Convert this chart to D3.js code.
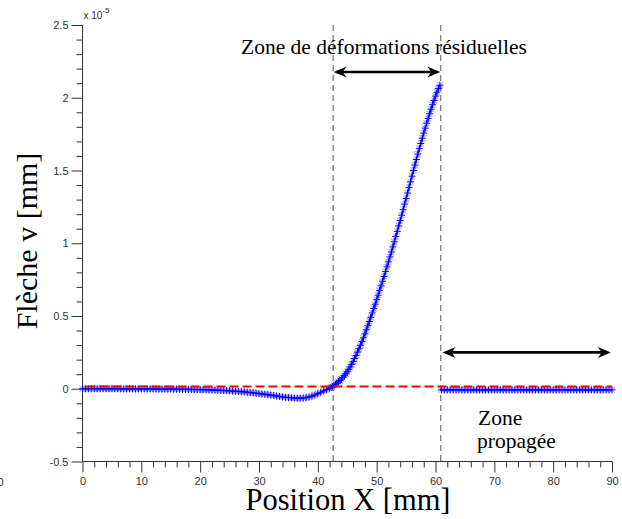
<!DOCTYPE html>
<html>
<head>
<meta charset="utf-8">
<script src="https://cdn.jsdelivr.net/npm/d3@7"></script>
<style>
  html, body { margin: 0; padding: 0; background: #fff; }
  svg { display: block; }
</style>
</head>
<body>
<svg id="chart" width="622" height="519"></svg>
<script>
// ---- data (values in units of 1e-5 mm) ----
const residX = [0,0.5,1,1.5,2,2.5,3,3.5,4,4.5,5,5.5,6,6.5,7,7.5,8,8.5,9,9.5,10,
  10.5,11,11.5,12,12.5,13,13.5,14,14.5,15,15.5,16,16.5,17,17.5,18,18.5,19,19.5,20,
  20.5,21,21.5,22,22.5,23,23.5,24,24.5,25,25.5,26,26.5,27,27.5,28,28.5,29,29.5,30,
  30.5,31,31.5,32,32.5,33,33.5,34,34.5,35,35.5,36,36.5,37,37.5,38,38.5,39,39.5,40,
  40.5,41,41.5,42,42.25,
  42.5,42.75,43,43.25,43.5,43.75,44,44.25,44.5,44.75,45,45.25,45.5,45.75,46,46.25,
  46.5,46.75,47,47.25,47.5,47.75,48,48.25,48.5,48.75,49,49.25,49.5,49.75,50,50.25,
  50.5,50.75,51,51.25,51.5,51.75,52,52.25,52.5,52.75,53,53.25,53.5,53.75,54,54.25,
  54.5,54.75,55,55.25,55.5,55.75,56,56.25,56.5,56.75,57,57.25,57.5,57.75,58,58.25,
  58.5,58.75,59,59.25,59.5,59.75,60,60.25,60.5,60.75];
const residV = [0,0,0,0,0,0,0,0,0,0,0,0,0,-0.001,-0.001,-0.001,-0.001,-0.001,-0.001,-0.001,-0.001,
  -0.001,-0.001,-0.001,-0.001,-0.002,-0.002,-0.002,-0.002,-0.002,-0.002,
  -0.003,-0.003,-0.003,-0.004,-0.004,-0.004,-0.005,-0.005,-0.006,-0.006,
  -0.007,-0.007,-0.008,-0.009,-0.009,-0.010,-0.011,-0.012,-0.013,-0.014,
  -0.016,-0.017,-0.019,-0.020,-0.022,-0.024,-0.026,-0.028,-0.031,-0.033,
  -0.036,-0.038,-0.041,-0.044,-0.047,-0.050,-0.053,-0.056,-0.058,-0.060,
  -0.062,-0.064,-0.065,-0.065,-0.064,-0.061,-0.057,-0.051,-0.043,-0.034,
  -0.025,-0.015,-0.006,0.004,0.009,
  0.015,0.023,0.031,0.039,0.048,0.057,0.067,0.078,0.090,0.103,0.117,0.133,0.150,0.168,0.187,0.208,
  0.229,0.252,0.275,0.299,0.324,0.350,0.377,0.405,0.433,0.462,0.491,0.521,0.551,0.581,0.612,0.643,
  0.675,0.707,0.739,0.772,0.805,0.838,0.872,0.906,0.940,0.975,1.010,1.046,1.082,1.119,1.156,1.193,
  1.231,1.269,1.307,1.345,1.384,1.422,1.461,1.500,1.538,1.576,1.613,1.650,1.686,1.722,1.757,1.791,
  1.825,1.858,1.890,1.921,1.952,1.982,2.011,2.038,2.064,2.086];
const propX = [61,61.5,62,62.5,63,63.5,64,64.5,65,65.5,66,66.5,67,67.5,68,68.5,69,69.5,70,
  70.5,71,71.5,72,72.5,73,73.5,74,74.5,75,75.5,76,76.5,77,77.5,78,78.5,79,79.5,80,
  80.5,81,81.5,82,82.5,83,83.5,84,84.5,85,85.5,86,86.5,87,87.5,88,88.5,89,89.5,90];
const propV = [-0.008,-0.008,-0.008,-0.008,-0.008,-0.008,-0.008,-0.008,-0.008,-0.008,
  -0.008,-0.008,-0.008,-0.008,-0.008,-0.008,-0.008,-0.008,-0.008,-0.008,
  -0.008,-0.008,-0.008,-0.008,-0.008,-0.008,-0.008,-0.008,-0.008,-0.008,
  -0.008,-0.008,-0.008,-0.008,-0.008,-0.008,-0.008,-0.008,-0.008,-0.008,
  -0.008,-0.008,-0.008,-0.008,-0.008,-0.008,-0.008,-0.008,-0.008,-0.008,
  -0.008,-0.008,-0.008,-0.008,-0.008,-0.008,-0.008,-0.008,-0.008];
const refLevel = 0.015;                 // red dashed reference
const zoneBounds = [42.6, 60.9];        // vertical dashed lines
const xTicks = [0,10,20,30,40,50,60,70,80,90];
const yTicks = [-0.5,0,0.5,1,1.5,2,2.5];
const xDomain = [0, 90];
const yDomain = [-0.5, 2.5];
const labels = {
  x: "Position X [mm]",
  y: "Flèche v [mm]",
  zoneRes: "Zone de déformations résiduelles",
  zoneProp: ["Zone", "propagée"],
  exponent: "-5"
};

// ---- drawing ----
const svg = d3.select("#chart");
svg.append("rect").attr("width", 622).attr("height", 519).attr("fill", "#fff");

const x = d3.scaleLinear().domain(xDomain).range([82.5, 612]);
const y = d3.scaleLinear().domain(yDomain).range([461.5, 25]);

const axisColor = "#333";
const tickFont = "'Liberation Sans', Arial, Helvetica, sans-serif";
const serif = "'Liberation Serif', 'Times New Roman', Times, serif";

// minor ticks (no labels)
const xMinor = d3.range(0, 90.001, 2).filter(v => v % 10 !== 0);
const yMinor = d3.range(-5, 25.001, 1).map(v => v / 10).filter(v => Math.abs(v * 2 - Math.round(v * 2)) > 1e-9);

const gx = svg.append("g").attr("transform", `translate(0,${y(-0.5)})`);
gx.call(d3.axisBottom(x).tickValues(xMinor).tickSize(6).tickFormat(""));
gx.call(g => { g.select(".domain").remove(); g.selectAll("text").remove(); });
const gx2 = svg.append("g").attr("transform", `translate(0,${y(-0.5)})`);
gx2.call(d3.axisBottom(x).tickValues(xTicks).tickSize(11).tickPadding(5).tickFormat(d => String(d)));
[gx, gx2].forEach(g => {
  g.selectAll("line").attr("stroke", axisColor);
  g.selectAll(".domain").attr("stroke", axisColor);
  g.selectAll("text").attr("fill", "#333").style("font-family", tickFont).style("font-size", "11px");
});

const gy = svg.append("g").attr("transform", `translate(${x(0)},0)`);
gy.call(d3.axisLeft(y).tickValues(yMinor).tickSize(6).tickFormat(""));
gy.call(g => { g.select(".domain").remove(); g.selectAll("text").remove(); });
const gy2 = svg.append("g").attr("transform", `translate(${x(0)},0)`);
gy2.call(d3.axisLeft(y).tickValues(yTicks).tickSize(11).tickPadding(3).tickFormat(d => String(d)));
[gy, gy2].forEach(g => {
  g.selectAll("line").attr("stroke", axisColor);
  g.selectAll(".domain").attr("stroke", axisColor);
  g.selectAll("text").attr("fill", "#333").style("font-family", tickFont).style("font-size", "11px");
});
gx2.select(".domain").attr("d", `M${x(0)},0H${x(90)}`);
gy2.select(".domain").attr("d", `M0,${y(-0.5)}V${y(2.5)}`);

// exponent label
const expT = svg.append("text").attr("x", x(0) + 1).attr("y", y(2.5) - 6)
  .style("font-family", tickFont).style("font-size", "10px").attr("fill", "#333");
expT.append("tspan").text("x 10");
expT.append("tspan").attr("dy", -6).style("font-size", "8px").text(labels.exponent);

// clipped label at the left edge (as in the reference)
svg.append("text").attr("x", 0.5).attr("y", y(-0.5) + 24).attr("text-anchor", "middle")
  .style("font-family", tickFont).style("font-size", "11px").attr("fill", "#333").text("0");

// vertical dashed zone bounds
svg.selectAll(".zb").data(zoneBounds).join("line")
  .attr("x1", d => x(d)).attr("x2", d => x(d))
  .attr("y1", y(2.5)).attr("y2", y(-0.5))
  .attr("stroke", "#555").attr("stroke-width", 1).attr("stroke-dasharray", "6,4");

// data series
const resid = residX.map((d, i) => [d, residV[i]]).filter(d => d[1] !== undefined);
const prop = propX.map((d, i) => [d, propV[i]]).filter(d => d[1] !== undefined);
const line = d3.line().x(d => x(d[0])).y(d => y(d[1]));
const blue = "#0000ff";

[resid, prop].forEach(series => {
  svg.append("path").datum(series).attr("d", line)
    .attr("fill", "none").attr("stroke", blue).attr("stroke-width", 1.5);
  const m = svg.append("g");
  m.selectAll("path.halo").data(series).join("path")
    .attr("transform", d => `translate(${x(d[0])},${y(d[1])})`)
    .attr("d", "M-3,-3L3,3M-3,3L3,-3")
    .attr("stroke", "rgba(90,90,255,0.45)").attr("stroke-width", 1.2).attr("fill", "none");
  m.selectAll("path.plus").data(series).join("path")
    .attr("transform", d => `translate(${x(d[0])},${y(d[1])})`)
    .attr("d", "M-3.5,0H3.5M0,-3.5V3.5")
    .attr("stroke", blue).attr("stroke-width", 1).attr("fill", "none");
});

// red dashed reference
svg.append("line").attr("x1", x(0)).attr("x2", x(90))
  .attr("y1", y(refLevel)).attr("y2", y(refLevel))
  .attr("stroke", "#ff0000").attr("stroke-width", 2).attr("stroke-dasharray", "9,4")
  .attr("stroke-dashoffset", -4);

// double arrows
function doubleArrow(x1, x2, yy) {
  const g = svg.append("g");
  g.append("line").attr("x1", x1 + 6).attr("x2", x2 - 6).attr("y1", yy).attr("y2", yy)
    .attr("stroke", "#000").attr("stroke-width", 2.6);
  const L = 13, W = 5.5, N = 4;
  g.append("path").attr("d", `M${x2},${yy}L${x2 - L},${yy - W}L${x2 - L + N},${yy}L${x2 - L},${yy + W}Z`).attr("fill", "#000");
  g.append("path").attr("d", `M${x1},${yy}L${x1 + L},${yy - W}L${x1 + L - N},${yy}L${x1 + L},${yy + W}Z`).attr("fill", "#000");
}
doubleArrow(x(zoneBounds[0]) + 0.5, x(zoneBounds[1]) - 0.5, y(2.177));
doubleArrow(x(61.2), x(89.8), y(0.25));

// annotations
svg.append("text").attr("x", 241).attr("y", 54)
  .style("font-family", serif).style("font-size", "21.5px").attr("fill", "#000")
  .text(labels.zoneRes);
svg.append("text").attr("x", 478).attr("y", 425)
  .style("font-family", serif).style("font-size", "21.5px").attr("fill", "#000")
  .text(labels.zoneProp[0]);
svg.append("text").attr("x", 477).attr("y", 448)
  .style("font-family", serif).style("font-size", "21.5px").attr("fill", "#000")
  .text(labels.zoneProp[1]);

// axis titles
svg.append("text").attr("x", 348).attr("y", 510).attr("text-anchor", "middle")
  .style("font-family", serif).style("font-size", "30.5px").attr("fill", "#000")
  .text(labels.x);
svg.append("text").attr("transform", "translate(37,241) rotate(-90)").attr("text-anchor", "middle")
  .style("font-family", serif).style("font-size", "30px").attr("fill", "#000")
  .text(labels.y);
</script>
</body>
</html>
